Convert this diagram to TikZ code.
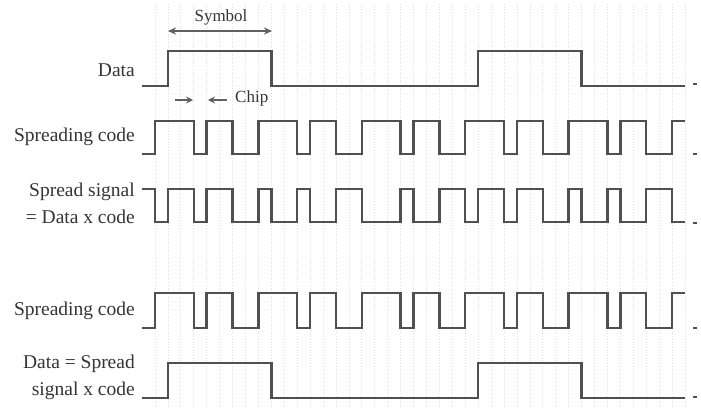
\documentclass[tikz,border=0pt]{standalone}
\usepackage{fontspec}
\setmainfont{Liberation Serif}
\usetikzlibrary{arrows.meta}
\definecolor{ink}{HTML}{505050}
\definecolor{txt}{HTML}{353535}
\definecolor{dimc}{HTML}{606060}
\newcommand\codewave[2]{(0,#2) -| (1,#1) -| (4,#2) -| (5,#1) -| (7,#2) -| (9,#1) -| (12,#2) -| (13,#1) -| (15,#2) -| (17,#1) -| (20,#2) -| (21,#1) -| (23,#2) -| (25,#1) -| (28,#2) -| (29,#1) -| (31,#2) -| (33,#1) -| (36,#2) -| (37,#1) -| (39,#2) -| (41,#1) -- (42,#1)}
\newcommand\datawave[2]{(0,#2) -| (2,#1) -| (10,#2) -| (26,#1) -| (34,#2) -- (42,#2)}
\newcommand\spreadwave[2]{(0,#1) -| (1,#2) -| (2,#1) -| (4,#2) -| (5,#1) -| (7,#2) -| (9,#1) -| (10,#2) -| (12,#1) -| (13,#2) -| (15,#1) -| (17,#2) -| (20,#1) -| (21,#2) -| (23,#1) -| (25,#2) -| (26,#1) -| (28,#2) -| (29,#1) -| (31,#2) -| (33,#1) -| (34,#2) -| (36,#1) -| (37,#2) -| (39,#1) -| (41,#2) -- (42,#2)}
\begin{document}
\begin{tikzpicture}[x=1pt,y=-1pt,
  wave/.style={draw=ink, line width=2.4pt, line join=miter},
  lbl/.style={text=txt, font=\fontsize{19.5}{27}\selectfont, anchor=east, align=right, inner sep=0pt},
  small/.style={text=txt, font=\fontsize{17}{20}\selectfont, inner sep=0pt},
  dimarrow/.style={draw=dimc, line width=1.3pt},
  gridline/.style={draw=gray!25, dotted, line width=0.7pt},
  tickmark/.style={draw=ink, line width=1.6pt}]
\useasboundingbox (0,0) rectangle (701,410);
\fill[white] (0,0) rectangle (701,410);
% faint grid
\foreach \k in {1,...,42} \draw[gridline] ({142+\k*12.93},4) -- ({142+\k*12.93},408);
% labels
\node[lbl] (ldata) at (135,70) {Data};
\node[lbl] (lcode) at (135,137) {Spreading code};
\node[lbl] (lspread) at (135,203) {Spread signal\\= Data x code};
\node[lbl] (lcode2) at (135,311) {Spreading code};
\node[lbl] (ldata2) at (135,377) {Data = Spread\\signal x code};
% waveforms
\begin{scope}[shift={(142,0)}, x=12.93pt]
  \draw[wave] \datawave{51}{86};
  \draw[wave] \codewave{121}{154};
  \draw[wave] \spreadwave{189}{222};
  \draw[wave] \codewave{293}{328};
  \draw[wave] \datawave{363}{398};
\end{scope}
% symbol annotation
\node[small] (sym) at (221,17) {Symbol};
\coordinate (sa) at (168,31);
\coordinate (sb) at (272,31);
\draw[dimarrow, {Stealth[length=8pt,width=7pt,inset=2.5pt]}-{Stealth[length=8pt,width=7pt,inset=2.5pt]}] (sa) -- (sb);
% chip annotation
\node[small, anchor=west] (chip) at (235,98) {Chip};
\coordinate (ca1) at (175,100);
\coordinate (ca2) at (193,100);
\coordinate (cb1) at (227,100);
\coordinate (cb2) at (208,100);
\draw[dimarrow, -{Stealth[length=7pt,width=7pt,inset=2.5pt]}] (ca1) -- (ca2);
\draw[dimarrow, -{Stealth[length=7pt,width=7pt,inset=2.5pt]}] (cb1) -- (cb2);
% right end marks
\foreach \yy in {84,154,223,328,397} \draw[tickmark] (693,\yy) -- (697,\yy);
\end{tikzpicture}
\end{document}
